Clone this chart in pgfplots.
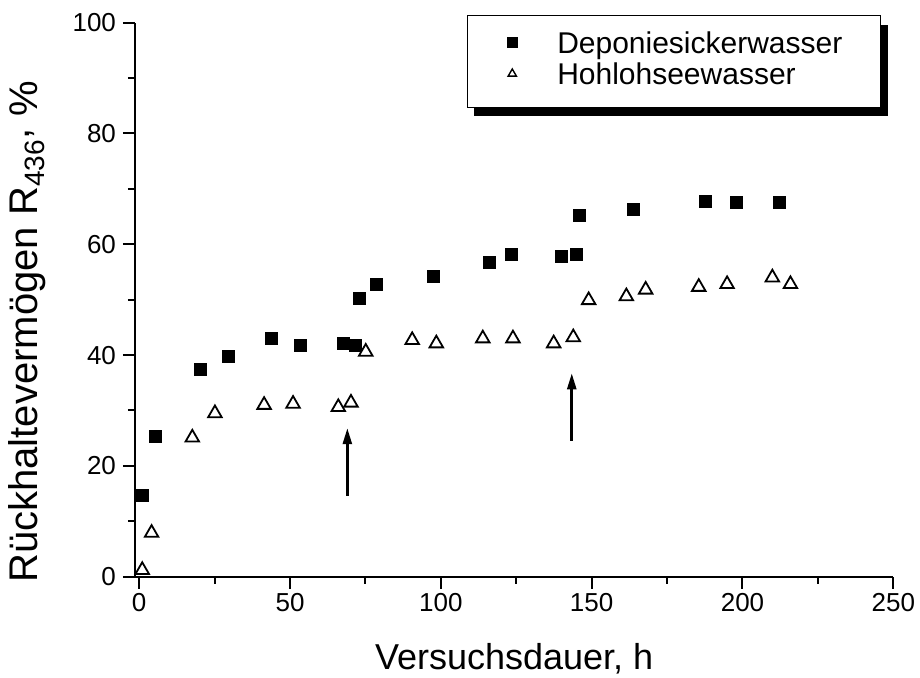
\documentclass[border=0pt]{standalone}
\usepackage{fontspec}
\setmainfont{Liberation Sans}
\usepackage{pgfplots}
\pgfplotsset{compat=1.18}
\usetikzlibrary{arrows.meta,shadows}
\pgfplotsset{
  sqleg/.style={legend image code/.code={\pgfpathrectangle{\pgfpoint{0pt}{-4pt}}{\pgfpoint{45pt}{8pt}}\pgfusepath{discard}\draw[##1, mark size=2.5pt] plot coordinates {(22.5pt,0pt)};}},
  trleg/.style={legend image code/.code={\pgfpathrectangle{\pgfpoint{0pt}{-11.3pt}}{\pgfpoint{45pt}{15.3pt}}\pgfusepath{discard}\draw[##1, mark size=2.4pt, mark options={line width=0.7pt}] plot coordinates {(22.5pt,0pt)};}},
}
\begin{document}
\begin{tikzpicture}
\begin{axis}[
  scale only axis,
  width=379.15pt, height=277pt,
  xmin=-1.4, xmax=250, ymin=0, ymax=100,
  clip=false,
  axis lines*=left,
  axis line style={line width=1pt},
  tick align=outside,
  major tick length=6pt, minor tick length=3.5pt,
  every tick/.style={line width=1pt, black},
  xtick={0,50,100,150,200,250},
  ytick={0,20,40,60,80,100},
  minor x tick num=1, minor y tick num=1,
  /pgf/number format/assume math mode=true,
  tick label style={font=\fontsize{13}{15}\selectfont},
  xticklabel style={inner ysep=2pt},
  xlabel={Versuchsdauer, h},
  ylabel={Rückhaltevermögen R\textsubscript{436}\raisebox{0.2em}{,} \%},
  xlabel style={at={(axis description cs:0.5,-0.168)}, anchor=base, inner sep=0pt, font=\fontsize{18}{20}\selectfont},
  ylabel style={at={(axis description cs:-0.128,-0.0114)}, anchor=base west, inner sep=0pt, font=\fontsize{20}{22}\selectfont},
  legend cell align=left,
  legend style={
    at={(axis description cs:0.4374,1.0139)}, anchor=north west,
    draw=black, line width=0.6pt, fill=white,
    drop shadow={shadow xshift=3.5pt, shadow yshift=-4.5pt, opacity=1, fill=black},
    inner xsep=0pt, inner ysep=5.4pt,
    font=\fontsize{15}{17}\selectfont,
    nodes={text height=11pt, text depth=0pt, inner ysep=2.4pt, inner xsep=0pt, text width=161.7pt, align=left},
  },
]
\addplot[only marks, mark=square*, mark size=3pt, black, mark options={fill=black, line width=0.3pt}, sqleg]
coordinates {
(1.0,14.7) (5.3,25.4) (20.2,37.4) (29.4,39.8) (43.7,43.1) (53.5,41.7)
(67.7,42.1) (71.8,41.7) (72.9,50.2) (78.5,52.7) (97.4,54.3) (115.9,56.7)
(123.3,58.2) (139.8,57.8) (144.9,58.2) (145.9,65.2) (163.9,66.4)
(187.8,67.8) (198.1,67.5) (212.1,67.6)
};
\addlegendentry{Deponiesickerwasser}
\addplot[only marks, mark=triangle, mark size=3.9pt, black, mark options={line width=0.9pt}, trleg]
coordinates {
(1.0,1.2) (4.1,7.9) (17.6,25.1) (25.1,29.5) (41.4,31.0) (51.0,31.2)
(66.0,30.6) (70.2,31.4) (75.1,40.6) (90.5,42.7) (98.5,42.1) (113.9,43.0)
(123.9,43.0) (137.4,42.1) (143.9,43.2) (149.0,49.9) (161.5,50.6)
(167.9,51.8) (185.5,52.3) (194.9,52.8) (209.9,54.0) (215.9,52.8)
};
\addlegendentry{Hohlohseewasser}
\draw[line width=1.3pt, -{Triangle[length=8pt,width=4.5pt]}] (axis cs:69,14.6) -- (axis cs:69,26.8);
\draw[line width=1.3pt, -{Triangle[length=8pt,width=4.5pt]}] (axis cs:143.4,24.5) -- (axis cs:143.4,36.7);
\end{axis}
\pgfresetboundingbox
\path[use as bounding box] (-67.5pt,-50.65pt) rectangle (392.5pt,288.35pt);
\end{tikzpicture}
\end{document}
